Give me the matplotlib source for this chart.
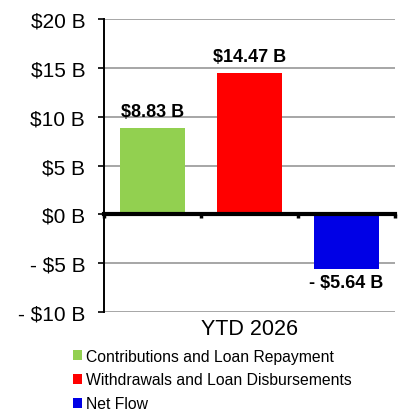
import matplotlib
matplotlib.use('Agg')
import matplotlib.pyplot as plt
from matplotlib.patches import Patch

# chart values (billions)
series_names = ['Contributions and Loan Repayment',
                'Withdrawals and Loan Disbursements',
                'Net Flow']
values = [8.83, 14.47, -5.64]
colors = ['#92d050', '#ff0000', '#0000e6']
value_labels = ['$8.83 B', '$14.47 B', '- $5.64 B']
category = 'YTD 2026'
y_ticks = [-10, -5, 0, 5, 10, 15, 20]
y_tick_labels = ['- $10 B', '- $5 B', '$0 B', '$5 B', '$10 B', '$15 B', '$20 B']

plt.rcParams['font.family'] = ['Liberation Sans', 'DejaVu Sans']

fig = plt.figure(figsize=(4.07, 4.14), dpi=100)
ax = fig.add_axes([104 / 407, 1 - 313 / 414, 291 / 407, 293 / 414])

xs = range(len(values))
ax.bar(xs, values, width=0.66, color=colors, zorder=3)

ax.set_xlim(-0.5, 2.5)
ax.set_ylim(-10, 20)
ax.set_yticks(y_ticks)
ax.set_yticklabels(y_tick_labels, fontsize=15)
ax.tick_params(axis='y', direction='out', length=4.5, width=1.2, pad=9)

# gridlines
for t in y_ticks:
    if t != 0:
        ax.axhline(t, color='#a6a6a6', lw=1.4, zorder=1)

# zero axis with group boundary ticks
for s in ['top', 'right']:
    ax.spines[s].set_visible(False)
ax.spines['left'].set_linewidth(1.4)
ax.spines['bottom'].set_position(('data', 0))
ax.spines['bottom'].set_linewidth(3)
ax.spines['bottom'].set_zorder(4)
ax.set_xticks([-0.5, 0.5, 1.5, 2.5])
ax.set_xticklabels([])
ax.tick_params(axis='x', direction='out', length=3, width=2.5)

# value labels
for x, v, lab in zip(xs, values, value_labels):
    if v >= 0:
        ax.annotate(lab, (x, v), xytext=(0, 6), textcoords='offset points',
                    ha='center', va='bottom', fontsize=13, fontweight='bold')
    else:
        ax.annotate(lab, (x, v), xytext=(0, -3), textcoords='offset points',
                    ha='center', va='top', fontsize=13, fontweight='bold')

ax.text(1, -10.6, category, ha='center', va='top', fontsize=15.5,
        transform=ax.transData)

handles = [Patch(facecolor=c, edgecolor='none') for c in colors]
fig.legend(handles, series_names, loc='upper left',
           bbox_to_anchor=(65 / 407, 1 - 342 / 414), frameon=False,
           fontsize=11.3, handlelength=0.6, handleheight=0.6,
           handletextpad=0.25, labelspacing=0.55, borderpad=0)

plt.savefig('out.png', dpi=100)
